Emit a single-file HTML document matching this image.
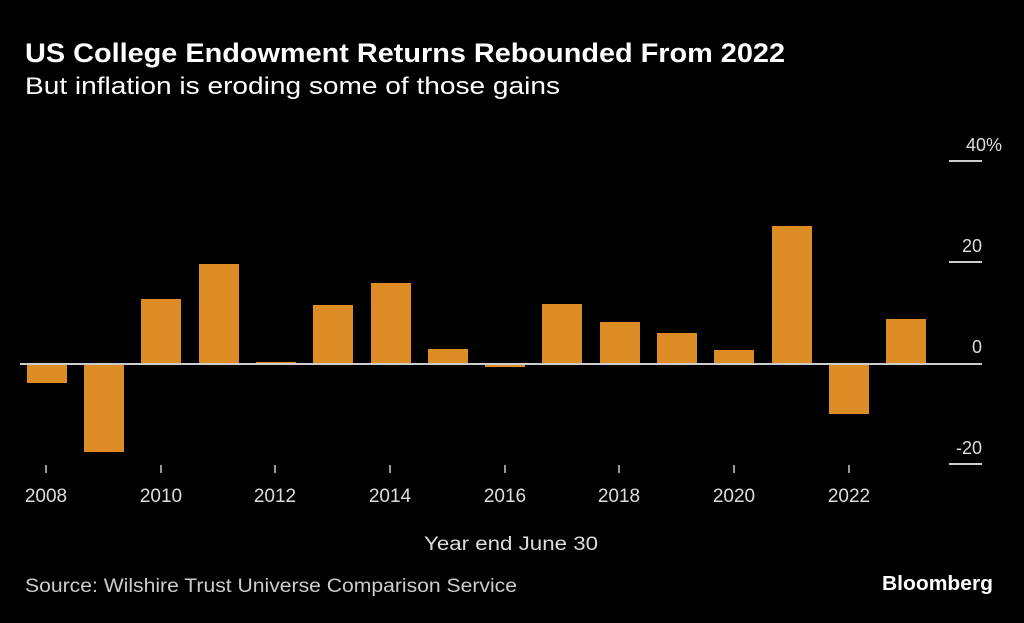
<!DOCTYPE html>
<html><head><meta charset="utf-8"><style>
body{margin:0;background:#000;width:1024px;height:618px;overflow:hidden;font-family:"Liberation Sans",sans-serif;color:#fff}
</style></head><body>
<svg width="1024" height="618" xmlns="http://www.w3.org/2000/svg" font-family="Liberation Sans, sans-serif">
<rect width="1024" height="618" fill="#000"/>
<text x="25" y="62" font-size="27" font-weight="bold" fill="#fff" textLength="760" lengthAdjust="spacingAndGlyphs">US College Endowment Returns Rebounded From 2022</text>
<text x="25" y="94" font-size="24" fill="#fff" textLength="535" lengthAdjust="spacingAndGlyphs">But inflation is eroding some of those gains</text>
<g stroke="#ccc" stroke-width="2">
<line x1="949" x2="982" y1="161" y2="161"/>
<line x1="949" x2="982" y1="262" y2="262"/>
<line x1="949" x2="982" y1="464" y2="464"/>
</g>
<g font-size="18" fill="#ddd" text-anchor="end">
<text x="1002" y="151">40%</text>
<text x="982" y="252">20</text>
<text x="982" y="353">0</text>
<text x="982" y="454">-20</text>
</g>
<g fill="#de8c26">
<rect x="27" y="364" width="40" height="19"/>
<rect x="84" y="364" width="40" height="88"/>
<rect x="141" y="299" width="40" height="65"/>
<rect x="199" y="264" width="40" height="100"/>
<rect x="256" y="362" width="40" height="2"/>
<rect x="313" y="305" width="40" height="59"/>
<rect x="371" y="283" width="40" height="81"/>
<rect x="428" y="349" width="40" height="15"/>
<rect x="485" y="364" width="40" height="3"/>
<rect x="542" y="304" width="40" height="60"/>
<rect x="600" y="322" width="40" height="42"/>
<rect x="657" y="333" width="40" height="31"/>
<rect x="714" y="350" width="40" height="14"/>
<rect x="772" y="226" width="40" height="138"/>
<rect x="829" y="364" width="40" height="50"/>
<rect x="886" y="319" width="40" height="45"/>
</g>
<line x1="20" x2="982" y1="364" y2="364" stroke="#ccc" stroke-width="2"/>
<g stroke="#ccc" stroke-width="1.5">
<line x1="46" x2="46" y1="465" y2="473"/>
<line x1="161" x2="161" y1="465" y2="473"/>
<line x1="275" x2="275" y1="465" y2="473"/>
<line x1="390" x2="390" y1="465" y2="473"/>
<line x1="505" x2="505" y1="465" y2="473"/>
<line x1="619" x2="619" y1="465" y2="473"/>
<line x1="734" x2="734" y1="465" y2="473"/>
<line x1="849" x2="849" y1="465" y2="473"/>
</g>
<g font-size="19" fill="#ddd" text-anchor="middle">
<text x="46" y="502">2008</text>
<text x="161" y="502">2010</text>
<text x="275" y="502">2012</text>
<text x="390" y="502">2014</text>
<text x="505" y="502">2016</text>
<text x="619" y="502">2018</text>
<text x="734" y="502">2020</text>
<text x="849" y="502">2022</text>
</g>
<text x="424" y="550" font-size="19" fill="#ddd" textLength="174" lengthAdjust="spacingAndGlyphs">Year end June 30</text>
<text x="25" y="592" font-size="19" fill="#ccc" textLength="492" lengthAdjust="spacingAndGlyphs">Source: Wilshire Trust Universe Comparison Service</text>
<text x="882" y="590" font-size="20" font-weight="bold" fill="#fff" textLength="111" lengthAdjust="spacingAndGlyphs">Bloomberg</text>
</svg>
</body></html>
